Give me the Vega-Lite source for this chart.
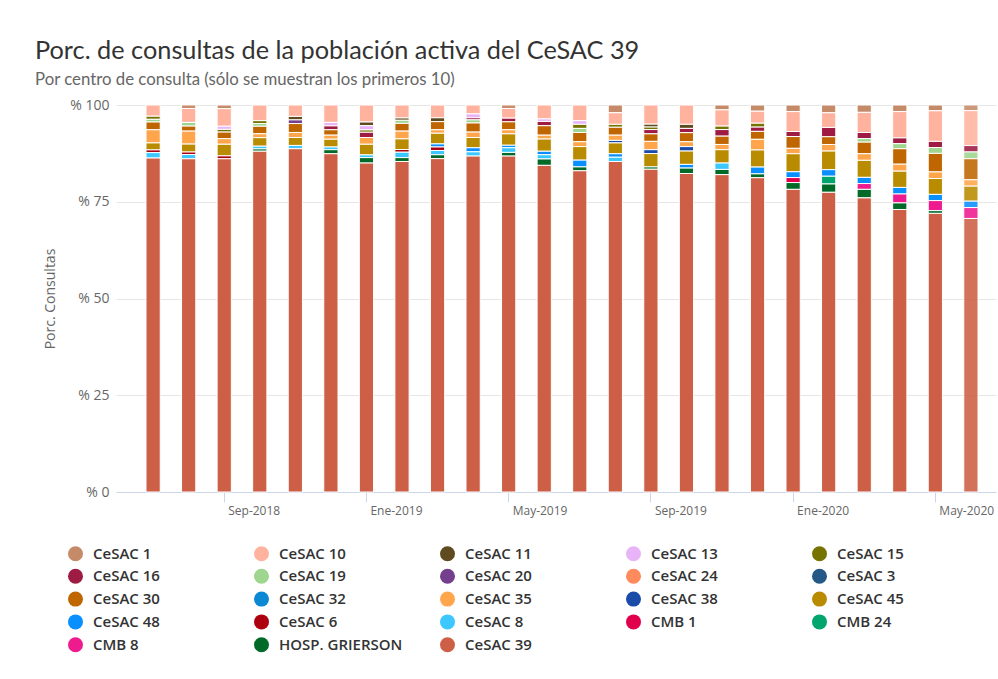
{
  "$schema": "https://vega.github.io/schema/vega-lite/v6.json",
  "width": 880,
  "height": 387,
  "autosize": {"type": "none"},
  "padding": {"left": 116, "top": 105, "right": 2, "bottom": 187},
  "background": "white",
  "title": {
    "text": "Porc. de consultas de la población activa del CeSAC 39",
    "subtitle": "Por centro de consulta (sólo se muestran los primeros 10)",
    "anchor": "start",
    "frame": "group",
    "dx": -81,
    "offset": 9,
    "font": "Lato",
    "fontSize": 25.3,
    "fontWeight": "normal",
    "color": "#333333",
    "subtitleFont": "Lato",
    "subtitleFontSize": 16.8,
    "subtitleColor": "#666666",
    "subtitlePadding": 8
  },
  "datasets": {
    "orden": [
      {"centro": "CeSAC 1", "rango": 1},
      {"centro": "CeSAC 10", "rango": 2},
      {"centro": "CeSAC 11", "rango": 3},
      {"centro": "CeSAC 13", "rango": 4},
      {"centro": "CeSAC 15", "rango": 5},
      {"centro": "CeSAC 16", "rango": 6},
      {"centro": "CeSAC 19", "rango": 7},
      {"centro": "CeSAC 20", "rango": 8},
      {"centro": "CeSAC 24", "rango": 9},
      {"centro": "CeSAC 3", "rango": 10},
      {"centro": "CeSAC 30", "rango": 11},
      {"centro": "CeSAC 32", "rango": 12},
      {"centro": "CeSAC 35", "rango": 13},
      {"centro": "CeSAC 38", "rango": 14},
      {"centro": "CeSAC 45", "rango": 15},
      {"centro": "CeSAC 48", "rango": 16},
      {"centro": "CeSAC 6", "rango": 17},
      {"centro": "CeSAC 8", "rango": 18},
      {"centro": "CMB 1", "rango": 19},
      {"centro": "CMB 24", "rango": 20},
      {"centro": "CMB 8", "rango": 21},
      {"centro": "HOSP. GRIERSON", "rango": 22},
      {"centro": "CeSAC 39", "rango": 23}
    ],
    "consultas": [
      {"mes": "Jul-2018", "centro": "CeSAC 10", "pct": 2.9},
      {"mes": "Jul-2018", "centro": "CeSAC 15", "pct": 0.8},
      {"mes": "Jul-2018", "centro": "CeSAC 19", "pct": 0.7},
      {"mes": "Jul-2018", "centro": "CeSAC 30", "pct": 2.0},
      {"mes": "Jul-2018", "centro": "CeSAC 35", "pct": 3.4},
      {"mes": "Jul-2018", "centro": "CeSAC 45", "pct": 1.8},
      {"mes": "Jul-2018", "centro": "CeSAC 6", "pct": 0.7},
      {"mes": "Jul-2018", "centro": "CeSAC 8", "pct": 1.4},
      {"mes": "Jul-2018", "centro": "CeSAC 39", "pct": 86.3},

      {"mes": "Ago-2018", "centro": "CeSAC 1", "pct": 0.9},
      {"mes": "Ago-2018", "centro": "CeSAC 10", "pct": 3.6},
      {"mes": "Ago-2018", "centro": "CeSAC 19", "pct": 0.95},
      {"mes": "Ago-2018", "centro": "CeSAC 30", "pct": 1.3},
      {"mes": "Ago-2018", "centro": "CeSAC 35", "pct": 3.35},
      {"mes": "Ago-2018", "centro": "CeSAC 45", "pct": 2.05},
      {"mes": "Ago-2018", "centro": "CeSAC 6", "pct": 0.65},
      {"mes": "Ago-2018", "centro": "CeSAC 8", "pct": 1.1},
      {"mes": "Ago-2018", "centro": "CeSAC 39", "pct": 86.1},

      {"mes": "Sep-2018", "centro": "CeSAC 1", "pct": 0.95},
      {"mes": "Sep-2018", "centro": "CeSAC 10", "pct": 4.55},
      {"mes": "Sep-2018", "centro": "CeSAC 13", "pct": 0.8},
      {"mes": "Sep-2018", "centro": "CeSAC 15", "pct": 0.7},
      {"mes": "Sep-2018", "centro": "CeSAC 30", "pct": 1.7},
      {"mes": "Sep-2018", "centro": "CeSAC 35", "pct": 1.45},
      {"mes": "Sep-2018", "centro": "CeSAC 45", "pct": 3.0},
      {"mes": "Sep-2018", "centro": "CeSAC 6", "pct": 0.75},
      {"mes": "Sep-2018", "centro": "CeSAC 39", "pct": 86.1},

      {"mes": "Oct-2018", "centro": "CeSAC 10", "pct": 4.05},
      {"mes": "Oct-2018", "centro": "CeSAC 15", "pct": 0.75},
      {"mes": "Oct-2018", "centro": "CeSAC 19", "pct": 0.7},
      {"mes": "Oct-2018", "centro": "CeSAC 30", "pct": 1.95},
      {"mes": "Oct-2018", "centro": "CeSAC 35", "pct": 1.0},
      {"mes": "Oct-2018", "centro": "CeSAC 45", "pct": 2.2},
      {"mes": "Oct-2018", "centro": "CeSAC 8", "pct": 0.7},
      {"mes": "Oct-2018", "centro": "HOSP. GRIERSON", "pct": 0.6},
      {"mes": "Oct-2018", "centro": "CeSAC 39", "pct": 88.1},

      {"mes": "Nov-2018", "centro": "CeSAC 10", "pct": 2.95},
      {"mes": "Nov-2018", "centro": "CeSAC 11", "pct": 0.9},
      {"mes": "Nov-2018", "centro": "CeSAC 20", "pct": 0.95},
      {"mes": "Nov-2018", "centro": "CeSAC 30", "pct": 2.3},
      {"mes": "Nov-2018", "centro": "CeSAC 35", "pct": 1.3},
      {"mes": "Nov-2018", "centro": "CeSAC 45", "pct": 2.05},
      {"mes": "Nov-2018", "centro": "CeSAC 8", "pct": 0.85},
      {"mes": "Nov-2018", "centro": "CeSAC 39", "pct": 88.7},

      {"mes": "Dic-2018", "centro": "CeSAC 10", "pct": 4.5},
      {"mes": "Dic-2018", "centro": "CeSAC 13", "pct": 0.9},
      {"mes": "Dic-2018", "centro": "CeSAC 16", "pct": 1.0},
      {"mes": "Dic-2018", "centro": "CeSAC 30", "pct": 1.4},
      {"mes": "Dic-2018", "centro": "CeSAC 35", "pct": 1.05},
      {"mes": "Dic-2018", "centro": "CeSAC 45", "pct": 2.0},
      {"mes": "Dic-2018", "centro": "CeSAC 8", "pct": 0.7},
      {"mes": "Dic-2018", "centro": "HOSP. GRIERSON", "pct": 1.05},
      {"mes": "Dic-2018", "centro": "CeSAC 39", "pct": 87.4},

      {"mes": "Ene-2019", "centro": "CeSAC 10", "pct": 4.4},
      {"mes": "Ene-2019", "centro": "CeSAC 11", "pct": 0.95},
      {"mes": "Ene-2019", "centro": "CeSAC 13", "pct": 1.1},
      {"mes": "Ene-2019", "centro": "CeSAC 15", "pct": 0.6},
      {"mes": "Ene-2019", "centro": "CeSAC 16", "pct": 1.35},
      {"mes": "Ene-2019", "centro": "CeSAC 35", "pct": 1.75},
      {"mes": "Ene-2019", "centro": "CeSAC 45", "pct": 2.75},
      {"mes": "Ene-2019", "centro": "CeSAC 8", "pct": 0.7},
      {"mes": "Ene-2019", "centro": "HOSP. GRIERSON", "pct": 1.4},
      {"mes": "Ene-2019", "centro": "CeSAC 39", "pct": 85.0},

      {"mes": "Feb-2019", "centro": "CeSAC 10", "pct": 3.35},
      {"mes": "Feb-2019", "centro": "CeSAC 11", "pct": 0.6},
      {"mes": "Feb-2019", "centro": "CeSAC 19", "pct": 0.8},
      {"mes": "Feb-2019", "centro": "CeSAC 30", "pct": 2.0},
      {"mes": "Feb-2019", "centro": "CeSAC 35", "pct": 2.0},
      {"mes": "Feb-2019", "centro": "CeSAC 45", "pct": 2.75},
      {"mes": "Feb-2019", "centro": "CeSAC 6", "pct": 0.7},
      {"mes": "Feb-2019", "centro": "CeSAC 8", "pct": 1.4},
      {"mes": "Feb-2019", "centro": "HOSP. GRIERSON", "pct": 1.0},
      {"mes": "Feb-2019", "centro": "CeSAC 39", "pct": 85.4},

      {"mes": "Mar-2019", "centro": "CeSAC 10", "pct": 3.3},
      {"mes": "Mar-2019", "centro": "CeSAC 11", "pct": 1.0},
      {"mes": "Mar-2019", "centro": "CeSAC 30", "pct": 2.1},
      {"mes": "Mar-2019", "centro": "CeSAC 35", "pct": 0.9},
      {"mes": "Mar-2019", "centro": "CeSAC 45", "pct": 2.75},
      {"mes": "Mar-2019", "centro": "CeSAC 48", "pct": 0.8},
      {"mes": "Mar-2019", "centro": "CeSAC 6", "pct": 0.9},
      {"mes": "Mar-2019", "centro": "CeSAC 8", "pct": 1.1},
      {"mes": "Mar-2019", "centro": "HOSP. GRIERSON", "pct": 1.0},
      {"mes": "Mar-2019", "centro": "CeSAC 39", "pct": 86.1},

      {"mes": "Abr-2019", "centro": "CeSAC 10", "pct": 2.3},
      {"mes": "Abr-2019", "centro": "CeSAC 13", "pct": 1.0},
      {"mes": "Abr-2019", "centro": "CeSAC 16", "pct": 0.55},
      {"mes": "Abr-2019", "centro": "CeSAC 19", "pct": 0.8},
      {"mes": "Abr-2019", "centro": "CeSAC 30", "pct": 2.35},
      {"mes": "Abr-2019", "centro": "CeSAC 35", "pct": 1.4},
      {"mes": "Abr-2019", "centro": "CeSAC 45", "pct": 2.65},
      {"mes": "Abr-2019", "centro": "CeSAC 48", "pct": 1.05},
      {"mes": "Abr-2019", "centro": "CeSAC 8", "pct": 1.1},
      {"mes": "Abr-2019", "centro": "CeSAC 39", "pct": 86.8},

      {"mes": "May-2019", "centro": "CeSAC 1", "pct": 0.9},
      {"mes": "May-2019", "centro": "CeSAC 10", "pct": 2.5},
      {"mes": "May-2019", "centro": "CeSAC 16", "pct": 0.95},
      {"mes": "May-2019", "centro": "CeSAC 30", "pct": 2.05},
      {"mes": "May-2019", "centro": "CeSAC 35", "pct": 1.05},
      {"mes": "May-2019", "centro": "CeSAC 45", "pct": 2.95},
      {"mes": "May-2019", "centro": "CeSAC 48", "pct": 0.65},
      {"mes": "May-2019", "centro": "CeSAC 8", "pct": 1.2},
      {"mes": "May-2019", "centro": "HOSP. GRIERSON", "pct": 0.95},
      {"mes": "May-2019", "centro": "CeSAC 39", "pct": 86.8},

      {"mes": "Jun-2019", "centro": "CeSAC 10", "pct": 3.6},
      {"mes": "Jun-2019", "centro": "CeSAC 13", "pct": 0.65},
      {"mes": "Jun-2019", "centro": "CeSAC 16", "pct": 1.1},
      {"mes": "Jun-2019", "centro": "CeSAC 30", "pct": 2.45},
      {"mes": "Jun-2019", "centro": "CeSAC 35", "pct": 1.0},
      {"mes": "Jun-2019", "centro": "CeSAC 45", "pct": 3.15},
      {"mes": "Jun-2019", "centro": "CeSAC 48", "pct": 0.9},
      {"mes": "Jun-2019", "centro": "CeSAC 8", "pct": 1.1},
      {"mes": "Jun-2019", "centro": "HOSP. GRIERSON", "pct": 1.65},
      {"mes": "Jun-2019", "centro": "CeSAC 39", "pct": 84.4},

      {"mes": "Jul-2019", "centro": "CeSAC 10", "pct": 4.05},
      {"mes": "Jul-2019", "centro": "CeSAC 13", "pct": 0.95},
      {"mes": "Jul-2019", "centro": "CeSAC 15", "pct": 1.05},
      {"mes": "Jul-2019", "centro": "CeSAC 19", "pct": 1.05},
      {"mes": "Jul-2019", "centro": "CeSAC 30", "pct": 2.4},
      {"mes": "Jul-2019", "centro": "CeSAC 35", "pct": 1.25},
      {"mes": "Jul-2019", "centro": "CeSAC 45", "pct": 3.5},
      {"mes": "Jul-2019", "centro": "CeSAC 48", "pct": 1.75},
      {"mes": "Jul-2019", "centro": "HOSP. GRIERSON", "pct": 1.0},
      {"mes": "Jul-2019", "centro": "CeSAC 39", "pct": 83.0},

      {"mes": "Ago-2019", "centro": "CeSAC 1", "pct": 2.0},
      {"mes": "Ago-2019", "centro": "CeSAC 10", "pct": 3.0},
      {"mes": "Ago-2019", "centro": "CeSAC 15", "pct": 0.75},
      {"mes": "Ago-2019", "centro": "CeSAC 30", "pct": 2.05},
      {"mes": "Ago-2019", "centro": "CeSAC 35", "pct": 1.35},
      {"mes": "Ago-2019", "centro": "CeSAC 38", "pct": 0.65},
      {"mes": "Ago-2019", "centro": "CeSAC 45", "pct": 2.8},
      {"mes": "Ago-2019", "centro": "CeSAC 48", "pct": 0.9},
      {"mes": "Ago-2019", "centro": "CeSAC 8", "pct": 1.1},
      {"mes": "Ago-2019", "centro": "CeSAC 39", "pct": 85.4},

      {"mes": "Sep-2019", "centro": "CeSAC 10", "pct": 4.95},
      {"mes": "Sep-2019", "centro": "CeSAC 11", "pct": 0.75},
      {"mes": "Sep-2019", "centro": "CeSAC 15", "pct": 0.65},
      {"mes": "Sep-2019", "centro": "CeSAC 16", "pct": 1.1},
      {"mes": "Sep-2019", "centro": "CeSAC 30", "pct": 1.95},
      {"mes": "Sep-2019", "centro": "CeSAC 35", "pct": 2.15},
      {"mes": "Sep-2019", "centro": "CeSAC 38", "pct": 1.0},
      {"mes": "Sep-2019", "centro": "CeSAC 45", "pct": 3.45},
      {"mes": "Sep-2019", "centro": "HOSP. GRIERSON", "pct": 0.6},
      {"mes": "Sep-2019", "centro": "CeSAC 39", "pct": 83.4},

      {"mes": "Oct-2019", "centro": "CeSAC 10", "pct": 5.0},
      {"mes": "Oct-2019", "centro": "CeSAC 11", "pct": 1.05},
      {"mes": "Oct-2019", "centro": "CeSAC 16", "pct": 1.1},
      {"mes": "Oct-2019", "centro": "CeSAC 30", "pct": 2.35},
      {"mes": "Oct-2019", "centro": "CeSAC 35", "pct": 1.25},
      {"mes": "Oct-2019", "centro": "CeSAC 38", "pct": 1.15},
      {"mes": "Oct-2019", "centro": "CeSAC 45", "pct": 3.45},
      {"mes": "Oct-2019", "centro": "CeSAC 48", "pct": 0.95},
      {"mes": "Oct-2019", "centro": "HOSP. GRIERSON", "pct": 1.4},
      {"mes": "Oct-2019", "centro": "CeSAC 39", "pct": 82.3},

      {"mes": "Nov-2019", "centro": "CeSAC 1", "pct": 1.25},
      {"mes": "Nov-2019", "centro": "CeSAC 10", "pct": 4.2},
      {"mes": "Nov-2019", "centro": "CeSAC 15", "pct": 0.9},
      {"mes": "Nov-2019", "centro": "CeSAC 16", "pct": 1.7},
      {"mes": "Nov-2019", "centro": "CeSAC 30", "pct": 2.15},
      {"mes": "Nov-2019", "centro": "CeSAC 35", "pct": 1.35},
      {"mes": "Nov-2019", "centro": "CeSAC 45", "pct": 3.45},
      {"mes": "Nov-2019", "centro": "CeSAC 8", "pct": 1.65},
      {"mes": "Nov-2019", "centro": "HOSP. GRIERSON", "pct": 1.35},
      {"mes": "Nov-2019", "centro": "CeSAC 39", "pct": 82.0},

      {"mes": "Dic-2019", "centro": "CeSAC 1", "pct": 1.6},
      {"mes": "Dic-2019", "centro": "CeSAC 10", "pct": 3.1},
      {"mes": "Dic-2019", "centro": "CeSAC 15", "pct": 1.0},
      {"mes": "Dic-2019", "centro": "CeSAC 16", "pct": 1.1},
      {"mes": "Dic-2019", "centro": "CeSAC 30", "pct": 2.05},
      {"mes": "Dic-2019", "centro": "CeSAC 35", "pct": 2.75},
      {"mes": "Dic-2019", "centro": "CeSAC 45", "pct": 4.4},
      {"mes": "Dic-2019", "centro": "CeSAC 48", "pct": 1.75},
      {"mes": "Dic-2019", "centro": "HOSP. GRIERSON", "pct": 1.0},
      {"mes": "Dic-2019", "centro": "CeSAC 39", "pct": 81.0},

      {"mes": "Ene-2020", "centro": "CeSAC 1", "pct": 1.7},
      {"mes": "Ene-2020", "centro": "CeSAC 10", "pct": 5.15},
      {"mes": "Ene-2020", "centro": "CeSAC 16", "pct": 1.3},
      {"mes": "Ene-2020", "centro": "CeSAC 30", "pct": 3.05},
      {"mes": "Ene-2020", "centro": "CeSAC 35", "pct": 1.4},
      {"mes": "Ene-2020", "centro": "CeSAC 45", "pct": 4.65},
      {"mes": "Ene-2020", "centro": "CeSAC 48", "pct": 1.5},
      {"mes": "Ene-2020", "centro": "CMB 1", "pct": 1.3},
      {"mes": "Ene-2020", "centro": "HOSP. GRIERSON", "pct": 1.75},
      {"mes": "Ene-2020", "centro": "CeSAC 39", "pct": 78.2},

      {"mes": "Feb-2020", "centro": "CeSAC 1", "pct": 2.0},
      {"mes": "Feb-2020", "centro": "CeSAC 10", "pct": 3.8},
      {"mes": "Feb-2020", "centro": "CeSAC 16", "pct": 2.4},
      {"mes": "Feb-2020", "centro": "CeSAC 30", "pct": 2.0},
      {"mes": "Feb-2020", "centro": "CeSAC 35", "pct": 1.7},
      {"mes": "Feb-2020", "centro": "CeSAC 45", "pct": 4.8},
      {"mes": "Feb-2020", "centro": "CeSAC 48", "pct": 1.7},
      {"mes": "Feb-2020", "centro": "CMB 24", "pct": 2.0},
      {"mes": "Feb-2020", "centro": "HOSP. GRIERSON", "pct": 2.15},
      {"mes": "Feb-2020", "centro": "CeSAC 39", "pct": 77.4},

      {"mes": "Mar-2020", "centro": "CeSAC 1", "pct": 1.9},
      {"mes": "Mar-2020", "centro": "CeSAC 10", "pct": 5.2},
      {"mes": "Mar-2020", "centro": "CeSAC 16", "pct": 1.6},
      {"mes": "Mar-2020", "centro": "CeSAC 19", "pct": 0.9},
      {"mes": "Mar-2020", "centro": "CeSAC 30", "pct": 3.0},
      {"mes": "Mar-2020", "centro": "CeSAC 35", "pct": 1.7},
      {"mes": "Mar-2020", "centro": "CeSAC 45", "pct": 4.4},
      {"mes": "Mar-2020", "centro": "CeSAC 48", "pct": 1.6},
      {"mes": "Mar-2020", "centro": "CMB 8", "pct": 1.5},
      {"mes": "Mar-2020", "centro": "HOSP. GRIERSON", "pct": 2.2},
      {"mes": "Mar-2020", "centro": "CeSAC 39", "pct": 76.0},

      {"mes": "Abr-2020", "centro": "CeSAC 1", "pct": 1.7},
      {"mes": "Abr-2020", "centro": "CeSAC 10", "pct": 6.8},
      {"mes": "Abr-2020", "centro": "CeSAC 16", "pct": 1.5},
      {"mes": "Abr-2020", "centro": "CeSAC 19", "pct": 1.3},
      {"mes": "Abr-2020", "centro": "CeSAC 30", "pct": 4.0},
      {"mes": "Abr-2020", "centro": "CeSAC 35", "pct": 1.8},
      {"mes": "Abr-2020", "centro": "CeSAC 45", "pct": 4.2},
      {"mes": "Abr-2020", "centro": "CeSAC 48", "pct": 1.7},
      {"mes": "Abr-2020", "centro": "CMB 8", "pct": 2.3},
      {"mes": "Abr-2020", "centro": "HOSP. GRIERSON", "pct": 1.7},
      {"mes": "Abr-2020", "centro": "CeSAC 39", "pct": 73.0},

      {"mes": "May-2020", "centro": "CeSAC 1", "pct": 1.5},
      {"mes": "May-2020", "centro": "CeSAC 10", "pct": 7.9},
      {"mes": "May-2020", "centro": "CeSAC 16", "pct": 1.6},
      {"mes": "May-2020", "centro": "CeSAC 19", "pct": 1.5},
      {"mes": "May-2020", "centro": "CeSAC 30", "pct": 4.8},
      {"mes": "May-2020", "centro": "CeSAC 35", "pct": 1.7},
      {"mes": "May-2020", "centro": "CeSAC 45", "pct": 4.1},
      {"mes": "May-2020", "centro": "CeSAC 48", "pct": 1.6},
      {"mes": "May-2020", "centro": "CMB 8", "pct": 2.6},
      {"mes": "May-2020", "centro": "HOSP. GRIERSON", "pct": 0.7},
      {"mes": "May-2020", "centro": "CeSAC 39", "pct": 72.0},

      {"mes": "Jun-2020", "centro": "CeSAC 1", "pct": 15},
      {"mes": "Jun-2020", "centro": "CeSAC 10", "pct": 93},
      {"mes": "Jun-2020", "centro": "CeSAC 16", "pct": 17},
      {"mes": "Jun-2020", "centro": "CeSAC 19", "pct": 18},
      {"mes": "Jun-2020", "centro": "CeSAC 30", "pct": 56},
      {"mes": "Jun-2020", "centro": "CeSAC 35", "pct": 17},
      {"mes": "Jun-2020", "centro": "CeSAC 45", "pct": 40},
      {"mes": "Jun-2020", "centro": "CeSAC 48", "pct": 17},
      {"mes": "Jun-2020", "centro": "CMB 8", "pct": 29},
      {"mes": "Jun-2020", "centro": "CeSAC 39", "pct": 728}
    ]
  },
  "data": {"name": "consultas"},
  "transform": [
    {"lookup": "centro", "from": {"data": {"name": "orden"}, "key": "centro", "fields": ["rango"]}}
  ],
  "mark": {"type": "bar", "stroke": "white", "strokeWidth": 1},
  "encoding": {
    "x": {
      "field": "mes",
      "type": "ordinal",
      "sort": null,
      "scale": {"paddingInner": 0.6, "paddingOuter": 0.675, "align": 0.625},
      "axis": {
        "title": null,
        "values": ["Sep-2018", "Ene-2019", "May-2019", "Sep-2019", "Ene-2020", "May-2020"],
        "labelAngle": 0,
        "labelAlign": "left",
        "labelBaseline": "top",
        "labelOffset": 4,
        "labelPadding": 3,
        "labelFont": "Open Sans",
        "labelFontSize": 12,
        "labelColor": "#666666",
        "tickColor": "#ccd6eb",
        "tickSize": 10,
        "domainColor": "#ccd6eb",
        "grid": false
      }
    },
    "y": {
      "field": "pct",
      "type": "quantitative",
      "stack": "normalize",
      "axis": {
        "values": [0, 0.25, 0.5, 0.75, 1],
        "labelExpr": "'% ' + round(datum.value * 100)",
        "title": "Porc. Consultas",
        "titleFont": "Open Sans",
        "titleFontSize": 14,
        "titleFontWeight": "normal",
        "titleColor": "#666666",
        "titlePadding": 12,
        "labelFont": "Open Sans",
        "labelFontSize": 14,
        "labelColor": "#666666",
        "labelPadding": 7,
        "domain": false,
        "ticks": false,
        "gridColor": "#e6e6e6"
      }
    },
    "order": {"field": "rango", "type": "quantitative", "sort": "descending"},
    "color": {
      "field": "centro",
      "type": "nominal",
      "scale": {
        "domain": ["CeSAC 1", "CeSAC 10", "CeSAC 11", "CeSAC 13", "CeSAC 15", "CeSAC 16", "CeSAC 19", "CeSAC 20", "CeSAC 24", "CeSAC 3", "CeSAC 30", "CeSAC 32", "CeSAC 35", "CeSAC 38", "CeSAC 45", "CeSAC 48", "CeSAC 6", "CeSAC 8", "CMB 1", "CMB 24", "CMB 8", "HOSP. GRIERSON", "CeSAC 39"],
        "range": ["#c58b68", "#ffb39f", "#5f4b1f", "#e8b4f7", "#767300", "#9e1b44", "#9ed58f", "#743f8c", "#ff8a5c", "#245886", "#bf6600", "#0b88d4", "#ffa64c", "#1a4ba8", "#b98b00", "#0a8fff", "#ad000f", "#3cc8ff", "#e0004c", "#00a66e", "#ee1b8f", "#016a28", "#cc5f45"]
      },
      "legend": {
        "title": null,
        "orient": "none",
        "legendX": -48,
        "legendY": 441,
        "columns": 5,
        "direction": "horizontal",
        "gridAlign": "all",
        "symbolType": "circle",
        "symbolSize": 225,
        "symbolStrokeWidth": 0,
        "symbolOpacity": 1,
        "labelFont": "Open Sans",
        "labelFontSize": 15,
        "labelFontWeight": 600,
        "labelColor": "#333333",
        "labelOffset": 10,
        "labelLimit": 300,
        "columnPadding": 37,
        "rowPadding": 6.8
      }
    },
    "opacity": {
      "condition": {"test": "datum.mes === 'Jun-2020'", "value": 0.88},
      "value": 1
    }
  },
  "config": {
    "view": {"stroke": null}
  }
}
